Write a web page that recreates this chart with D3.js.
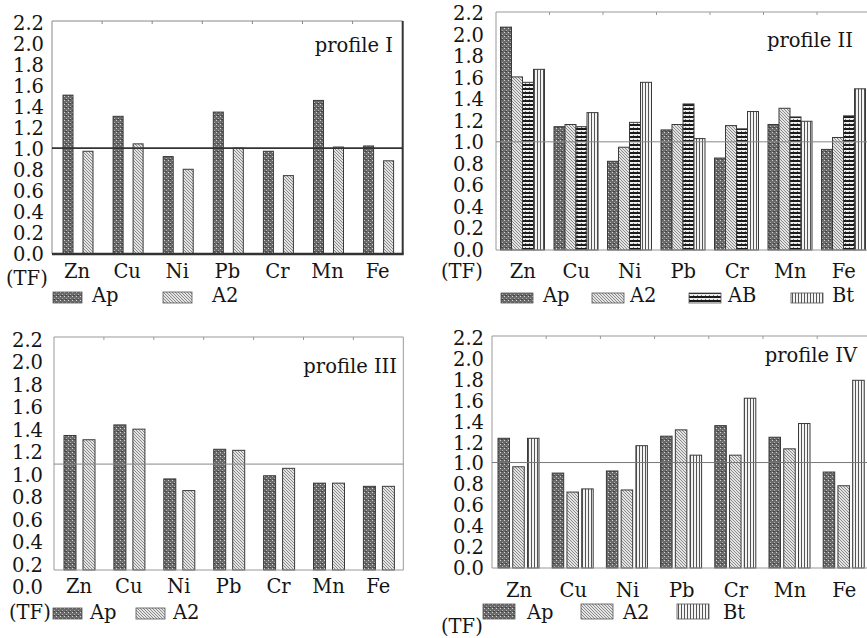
<!DOCTYPE html>
<html>
<head>
<meta charset="utf-8">
<script src="https://d3js.org/d3.v7.min.js"></script>
<style>
  body { margin: 0; background: #fff; }
  svg { display: block; }
  text { font-family: "DejaVu Serif", serif; fill: #151515; }
</style>
</head>
<body>
<div id="chart"></div>
<script>
// *****************************************************************************
// data (TF values)
// *****************************************************************************
var elements = ["Zn", "Cu", "Ni", "Pb", "Cr", "Mn", "Fe"];
var yTicks = [0, 0.2, 0.4, 0.6, 0.8, 1.0, 1.2, 1.4, 1.6, 1.8, 2.0, 2.2];

var p1_series = ["Ap", "A2"];
var p1_Ap = [1.50, 1.30, 0.92, 1.34, 0.97, 1.45, 1.02];
var p1_A2 = [0.97, 1.04, 0.80, 1.00, 0.74, 1.01, 0.88];

var p2_series = ["Ap", "A2", "AB", "Bt"];
var p2_Ap = [2.06, 1.14, 0.82, 1.11, 0.85, 1.16, 0.93];
var p2_A2 = [1.60, 1.16, 0.95, 1.16, 1.15, 1.31, 1.04];
var p2_AB = [1.55, 1.14, 1.18, 1.35, 1.12, 1.23, 1.24];
var p2_Bt = [1.67, 1.27, 1.55, 1.03, 1.28, 1.19, 1.49];

var p3_series = ["Ap", "A2"];
var p3_Ap = [1.27, 1.37, 0.86, 1.14, 0.89, 0.82, 0.79];
var p3_A2 = [1.23, 1.33, 0.75, 1.13, 0.96, 0.82, 0.79];

var p4_series = ["Ap", "A2", "Bt"];
var p4_Ap = [1.23, 0.90, 0.92, 1.25, 1.35, 1.24, 0.91];
var p4_A2 = [0.96, 0.72, 0.74, 1.31, 1.07, 1.13, 0.78];
var p4_Bt = [1.23, 0.75, 1.16, 1.07, 1.61, 1.37, 1.78];

var width = 867, height = 638;
var fontSize = "19.5px";

var svg = d3.select("#chart").append("svg")
  .attr("width", width)
  .attr("height", height);

svg.append("rect").attr("width", width).attr("height", height).attr("fill", "white");

// *****************************************************************************
// fill patterns
// *****************************************************************************
var defs = svg.append("defs");

var pAp = defs.append("pattern").attr("id", "pat-Ap")
  .attr("patternUnits", "userSpaceOnUse").attr("width", 4).attr("height", 4);
pAp.append("rect").attr("width", 4).attr("height", 4).attr("fill", "#6a6a6a");
pAp.append("rect").attr("x", 0).attr("y", 0).attr("width", 1).attr("height", 1).attr("fill", "#d4d4d4");
pAp.append("rect").attr("x", 2).attr("y", 2).attr("width", 1).attr("height", 1).attr("fill", "#b4b4b4");
pAp.append("rect").attr("x", 1).attr("y", 3).attr("width", 2).attr("height", 1).attr("fill", "#444");

var pA2 = defs.append("pattern").attr("id", "pat-A2")
  .attr("patternUnits", "userSpaceOnUse").attr("width", 3).attr("height", 3);
pA2.append("rect").attr("width", 3).attr("height", 3).attr("fill", "#e4e4e4");
pA2.append("path").attr("d", "M-1,-1 L4,4 M-1,2 L1,4 M2,-1 L4,1")
  .attr("stroke", "#808080").attr("stroke-width", 0.9);

var pAB = defs.append("pattern").attr("id", "pat-AB")
  .attr("patternUnits", "userSpaceOnUse").attr("width", 4).attr("height", 4);
pAB.append("rect").attr("width", 4).attr("height", 4).attr("fill", "#eee");
pAB.append("rect").attr("y", 0).attr("width", 4).attr("height", 2).attr("fill", "#1a1a1a");
pAB.append("rect").attr("x", 1).attr("y", 3).attr("width", 1).attr("height", 1).attr("fill", "#777");

var pBt = defs.append("pattern").attr("id", "pat-Bt")
  .attr("patternUnits", "userSpaceOnUse").attr("width", 3).attr("height", 3);
pBt.append("rect").attr("width", 3).attr("height", 3).attr("fill", "#f4f4f4");
pBt.append("rect").attr("x", 0).attr("width", 1).attr("height", 3).attr("fill", "#555");

// *****************************************************************************
// panels
// *****************************************************************************
var panels = [
  {
    title: "profile I", series: p1_series, values: [p1_Ap, p1_A2],
    x0: 52, catW: 50.1, top: 21, bottom: 254, labTop: 23, labBottom: 254, labX: 44,
    inner: [11, 41], pad: 0.5,
    titleX: 393, titleY: 52, catY: 278, tfX: 6, tfY: 285,
    legY: 292, legH: 11, legRect: [53, 163], legW: 29, legText: [92, 212], legTextY: 302,
    frameColor: "#888", refColor: "#333", refWidth: 1.6, boldAxis: true
  },
  {
    title: "profile II", series: p2_series, values: [p2_Ap, p2_A2, p2_AB, p2_Bt],
    x0: 496, catW: 53.5, top: 12, bottom: 250, labTop: 13, labBottom: 250, labX: 484,
    inner: [4.5, 48.5], pad: 0,
    titleX: 853, titleY: 47, catY: 278, tfX: 441, tfY: 278,
    legY: 293, legH: 10, legRect: [501, 592, 689, 791], legW: 32, legText: [543, 630, 728, 832], legTextY: 302,
    frameColor: "#999", refColor: "#888", refWidth: 1, boldAxis: false
  },
  {
    title: "profile III", series: p3_series, values: [p3_Ap, p3_A2],
    x0: 54, catW: 49.9, top: 337, bottom: 570, labTop: 340, labBottom: 587, labX: 43,
    inner: [10, 41], pad: 0.368,
    titleX: 397, titleY: 373, catY: 593, tfX: 9, tfY: 619,
    legY: 608, legH: 11, legRect: [53, 136], legW: 29, legText: [90, 173], legTextY: 619,
    frameColor: "#999", refColor: "#888", refWidth: 1, boldAxis: false
  },
  {
    title: "profile IV", series: p4_series, values: [p4_Ap, p4_A2, p4_Bt],
    x0: 492, catW: 54.2, top: 336, bottom: 568, labTop: 338, labBottom: 568, labX: 484,
    inner: [6, 47], pad: 0.22,
    titleX: 857, titleY: 362, catY: 597, tfX: 441, tfY: 633,
    legY: 604, legH: 15, legRect: [483, 581, 677], legW: 32, legText: [527, 623, 723], legTextY: 619,
    frameColor: "#999", refColor: "#777", refWidth: 1, boldAxis: false
  }
];

panels.forEach(drawPanel);

function drawPanel(p) {
  var g = svg.append("g");
  var xRight = p.x0 + p.catW * elements.length;

  var x = d3.scaleBand().domain(elements).range([p.x0, xRight]).paddingInner(0).paddingOuter(0);
  var xs = d3.scaleBand().domain(p.series).range(p.inner).paddingInner(p.pad).paddingOuter(0);
  var y = d3.scaleLinear().domain([0, 2.2]).range([p.bottom, p.top]);
  // tick labels are placed on their own scale (shifted in profile III)
  var yLab = d3.scaleLinear().domain([0, 2.2]).range([p.labBottom, p.labTop]);

  // frame
  g.append("line").attr("x1", p.x0).attr("x2", xRight).attr("y1", p.top).attr("y2", p.top)
    .attr("stroke", p.frameColor).attr("stroke-width", 1);
  g.append("line").attr("x1", p.x0).attr("x2", p.x0).attr("y1", p.top).attr("y2", p.bottom)
    .attr("stroke", p.frameColor).attr("stroke-width", 1);
  g.append("line").attr("x1", xRight).attr("x2", xRight).attr("y1", p.top).attr("y2", p.bottom)
    .attr("stroke", p.boldAxis ? "#333" : p.frameColor).attr("stroke-width", p.boldAxis ? 2 : 1);

  // small ticks on the top edge at the category boundaries
  g.selectAll(".ttick").data(elements.slice(1)).enter().append("line")
    .attr("x1", function (d) { return x(d); })
    .attr("x2", function (d) { return x(d); })
    .attr("y1", p.top).attr("y2", p.top + 3)
    .attr("stroke", p.frameColor);

  // bars
  p.series.forEach(function (s, si) {
    g.selectAll(".bar-" + s).data(p.values[si]).enter().append("rect")
      .attr("x", function (d, i) { return x(elements[i]) + xs(s); })
      .attr("y", function (d) { return y(d); })
      .attr("width", xs.bandwidth())
      .attr("height", function (d) { return y(0) - y(d); })
      .attr("fill", "url(#pat-" + s + ")")
      .attr("stroke", "#3a3a3a")
      .attr("stroke-width", 1);
  });

  // reference line TF = 1
  g.append("line").attr("x1", p.x0).attr("x2", xRight).attr("y1", y(1)).attr("y2", y(1))
    .attr("stroke", p.refColor).attr("stroke-width", p.refWidth);

  // bottom axis line
  g.append("line").attr("x1", p.x0).attr("x2", xRight + (p.boldAxis ? 1 : 0))
    .attr("y1", p.bottom).attr("y2", p.bottom)
    .attr("stroke", p.boldAxis ? "#333" : p.frameColor).attr("stroke-width", p.boldAxis ? 2.5 : 1);

  // y tick labels
  g.selectAll(".ylab").data(yTicks).enter().append("text")
    .attr("x", p.labX)
    .attr("y", function (d) { return yLab(d); })
    .attr("dy", "0.36em")
    .attr("text-anchor", "end")
    .style("font-size", fontSize)
    .text(function (d) { return d.toFixed(1); });

  // category labels
  g.selectAll(".xlab").data(elements).enter().append("text")
    .attr("x", function (d) { return x(d) + x.bandwidth() / 2; })
    .attr("y", p.catY)
    .attr("text-anchor", "middle")
    .style("font-size", fontSize)
    .text(function (d) { return d; });

  // title
  g.append("text").attr("x", p.titleX).attr("y", p.titleY)
    .attr("text-anchor", "end").style("font-size", fontSize).text(p.title);

  // (TF)
  g.append("text").attr("x", p.tfX).attr("y", p.tfY)
    .style("font-size", fontSize).text("(TF)");

  // legend
  p.series.forEach(function (s, si) {
    g.append("rect")
      .attr("x", p.legRect[si]).attr("y", p.legY)
      .attr("width", p.legW).attr("height", p.legH)
      .attr("fill", "url(#pat-" + s + ")")
      .attr("stroke", "#555").attr("stroke-width", 0.8);
    g.append("text")
      .attr("x", p.legText[si]).attr("y", p.legTextY)
      .style("font-size", fontSize)
      .text(s);
  });
}
</script>
</body>
</html>
